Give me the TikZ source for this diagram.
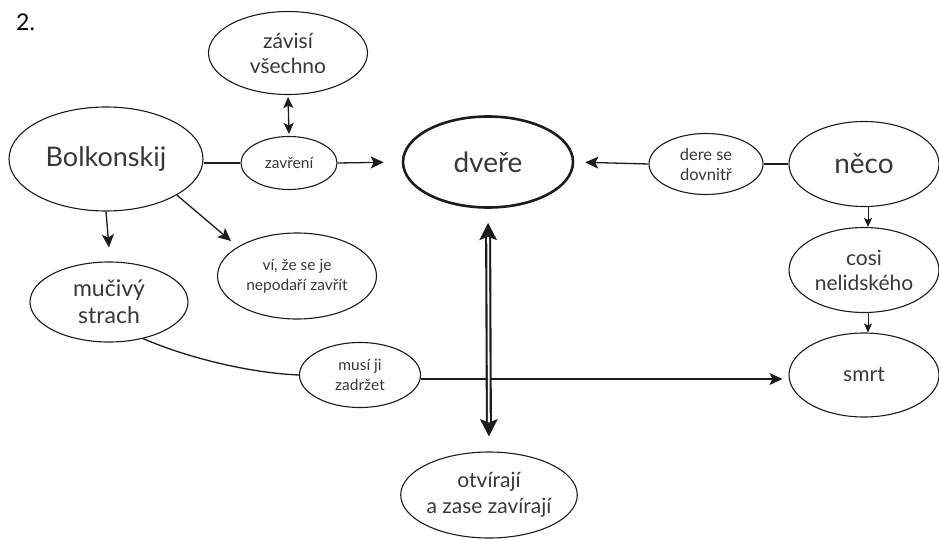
\documentclass[tikz,border=0pt]{standalone}
\usepackage{fontspec}
\setmainfont{Lato}
\usetikzlibrary{shapes.geometric,arrows.meta}
\definecolor{ink}{HTML}{1C1C1C}
\definecolor{txt}{HTML}{383838}
\newcommand\fsz[2]{\fontsize{#1}{#2}\selectfont}
\tikzset{
  bubble/.style={ellipse, draw=ink, line width=1.1pt, text=txt, align=center, inner sep=0pt},
  link/.style={draw=ink, line width=1.3pt},
  arr/.style={link, -{Stealth[length=13pt,width=12pt,inset=3pt]}},
  smallarr/.style={link, line width=1pt, -{Stealth[length=9pt,width=8pt,inset=2pt]}},
  both/.style={link, {Stealth[length=11pt,width=10pt,inset=2.5pt]}-{Stealth[length=11pt,width=10pt,inset=2.5pt]}},
}
\begin{document}
\begin{tikzpicture}[x=1pt,y=-1pt]
\useasboundingbox[fill=white] (0,0) rectangle (939,540);

\node[text=black, font=\fsz{23}{26}, anchor=north west, inner sep=0pt] (num) at (16,14) {2.};

% nodes
\node[bubble, minimum width=194, minimum height=104, font=\fsz{27}{30}] (bol) at (106,159) {Bolkonskij};
\node[bubble, minimum width=159, minimum height=83, font=\fsz{21}{25}] (zav) at (288,53) {závisí\\všechno};
\node[bubble, minimum width=96, minimum height=53, font=\fsz{15.5}{18}] (zr) at (289,163) {zavření};
\node[bubble, line width=2.6pt, minimum width=170, minimum height=91, font=\fsz{28}{30}] (dv) at (488,162) {dveře};
\node[bubble, minimum width=114, minimum height=61, font=\fsz{16.5}{20}] (dere) at (706,164) {dere se\\dovnitř};
\node[bubble, minimum width=150, minimum height=85, font=\fsz{28}{30}] (neco) at (864,164) {něco};
\node[bubble, minimum width=150, minimum height=85, font=\fsz{21}{25}] (cosi) at (864,270) {cosi\\nelidského};
\node[bubble, minimum width=150, minimum height=84, font=\fsz{21}{25}] (smrt) at (864,375) {smrt};
\node[bubble, minimum width=158, minimum height=80, font=\fsz{23}{27}] (muc) at (109,302) {mučivý\\strach};
\node[bubble, minimum width=159, minimum height=86, font=\fsz{15.5}{20}] (vi) at (297,276) {ví, že se je\\nepodaří zavřít};
\node[bubble, minimum width=121, minimum height=65, font=\fsz{15.5}{20}] (mus) at (360,375) {musí ji\\zadržet};
\node[bubble, minimum width=174, minimum height=86, font=\fsz{21}{26}] (otv) at (489,495) {otvírají\\a zase zavírají};

% connectors
\draw[link] (bol.east |- zr.west) -- (zr.west);
\draw[arr, shorten >=18pt] (zr.east) -- (dv.west);
\draw[both, shorten <=2pt, shorten >=2pt] (zav.south) -- (zr.north);
\draw[arr] (bol.south) -- ([yshift=14pt]muc.north);
\draw[arr] (bol.-27) -- (231,241) coordinate (vitip);
\draw[link] (neco.west) -- (dere.east);
\draw[arr, shorten >=11pt] (dere.west) -- (dv.east);
\draw[smallarr] ([xshift=4pt]neco.south) -- ([xshift=4pt]cosi.north);
\draw[smallarr] ([xshift=4pt]cosi.south) -- ([xshift=4pt]smrt.north);
\draw[link] (muc.-47) .. controls (188,358) and (250,373) .. (mus.west);
\draw[arr, shorten >=6pt] ([yshift=-4pt]mus.east) -- ([yshift=-4pt]smrt.west);

% the door arrow: a heavy double shaft with a head at each end
\draw[draw=ink, line width=6pt, shorten <=14pt, shorten >=15pt,
      {Stealth[length=17pt,width=17pt,inset=3pt]}-{Stealth[length=17pt,width=17pt,inset=3pt]}]
      (dv.south) -- (otv.north);
\draw[white, line width=1.8pt, shorten <=28pt, shorten >=29pt] (dv.south) -- (otv.north);
\end{tikzpicture}
\end{document}
